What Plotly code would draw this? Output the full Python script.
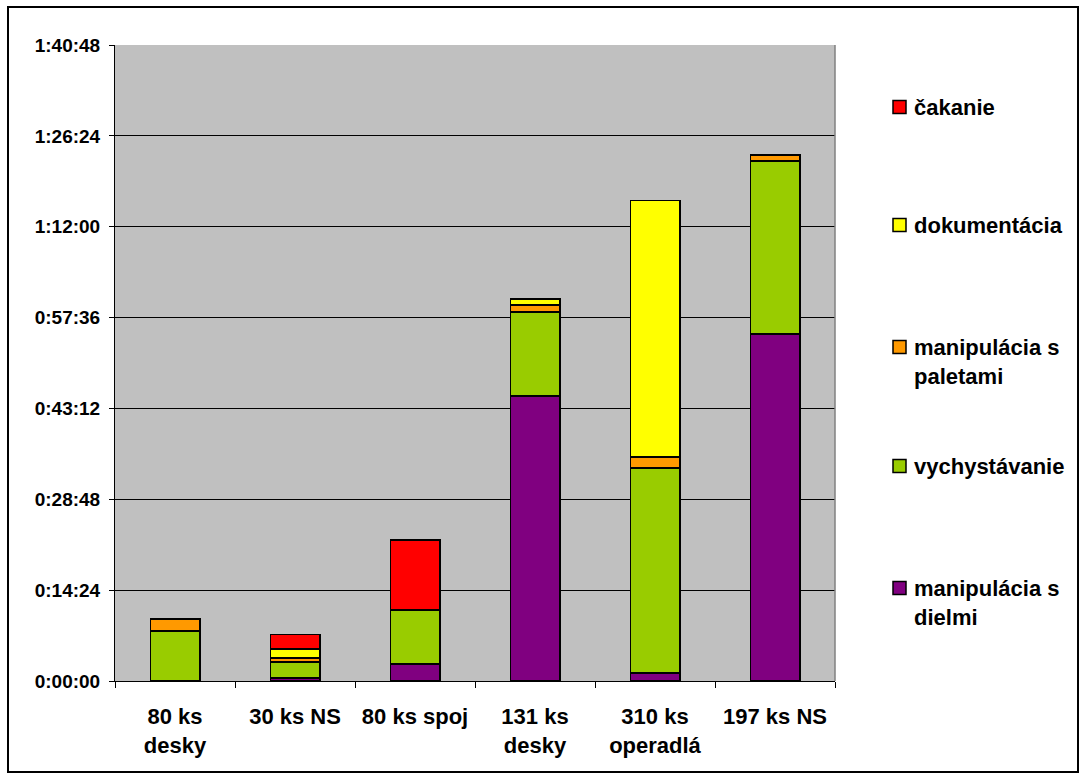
import plotly.graph_objects as go

# Categories (x axis)
categories = ["80 ks<br>desky", "30 ks NS", "80 ks spoj",
              "131 ks<br>desky", "310 ks<br>operadlá", "197 ks NS"]

# Time per activity, in seconds (stacked bottom -> top)
manipulacia_dielmi = [0, 31, 162, 2710, 73, 3300]
vychystavanie = [475, 149, 513, 799, 1949, 1642]
manipulacia_paletami = [114, 35, 0, 67, 110, 57]
dokumentacia = [0, 91, 0, 57, 2438, 0]
cakanie = [0, 137, 666, 0, 0, 0]

# Y axis ticks (seconds) and their h:mm:ss labels
y_tick_seconds = [0, 864, 1728, 2592, 3456, 4320, 5184, 6048]
y_tick_labels = ["0:00:00", "0:14:24", "0:28:48", "0:43:12",
                 "0:57:36", "1:12:00", "1:26:24", "1:40:48"]

series = [
    ("manipulácia s<br>dielmi", manipulacia_dielmi, "#800080"),
    ("vychystávanie", vychystavanie, "#99CC00"),
    ("manipulácia s<br>paletami", manipulacia_paletami, "#FF9900"),
    ("dokumentácia", dokumentacia, "#FFFF00"),
    ("čakanie", cakanie, "#FF0000"),
]

W, H = 1086, 781
L, R, T, B = 115, 835, 45, 681   # plot area edges in pixels


def px_x(px):
    return (px - L) / (R - L)


def px_y(py):
    return (B - py) / (B - T)


FONT = "Liberation Sans, Arial, sans-serif"

fig = go.Figure()
for name, vals, color in series:
    fig.add_trace(go.Bar(
        x=categories, y=vals, name=name,
        marker=dict(color=color, line=dict(color="black", width=1.8)),
        showlegend=False,
    ))

shapes = [
    # outer chart border
    dict(type="rect", xref="paper", yref="paper",
         x0=px_x(8), x1=px_x(1078), y0=px_y(772), y1=px_y(7),
         line=dict(color="black", width=2), fillcolor="rgba(0,0,0,0)"),
    # plot area right border
    dict(type="line", xref="paper", yref="paper",
         x0=1, x1=1, y0=0, y1=1, line=dict(color="#808080", width=1.5)),
]

annotations = []
# legend, top entry first (y = centre of the first text line)
legend_rows = [
    ("čakanie", "#FF0000", 107),
    ("dokumentácia", "#FFFF00", 225),
    ("manipulácia s<br>paletami", "#FF9900", 347),
    ("vychystávanie", "#99CC00", 466),
    ("manipulácia s<br>dielmi", "#800080", 588),
]
for text, color, yc in legend_rows:
    shapes.append(dict(type="rect", xref="paper", yref="paper",
                       x0=px_x(893), x1=px_x(906),
                       y0=px_y(yc + 6.5), y1=px_y(yc - 6.5),
                       fillcolor=color, line=dict(color="black", width=1.5)))
    annotations.append(dict(xref="paper", yref="paper",
                            x=px_x(912), y=px_y(yc - 14),
                            xanchor="left", yanchor="top", align="left",
                            text=text, showarrow=False,
                            font=dict(family=FONT, size=22, color="black",
                                      weight="bold")))

fig.update_layout(
    width=W, height=H,
    margin=dict(l=L, r=W - R, t=T, b=H - B, pad=0),
    barmode="stack", bargap=0.59,
    plot_bgcolor="#C0C0C0", paper_bgcolor="white",
    shapes=shapes, annotations=annotations,
    xaxis=dict(type="category", tickson="boundaries", ticks="outside",
               ticklen=6, tickcolor="black", tickwidth=1,
               showline=True, linecolor="black", linewidth=1,
               showgrid=False, ticklabelstandoff=16,
               tickfont=dict(family=FONT, size=22, color="black",
                             weight="bold")),
    yaxis=dict(range=[0, 6048], tickvals=y_tick_seconds,
               ticktext=y_tick_labels, ticks="outside", ticklen=5,
               tickcolor="black", showline=True, linecolor="black",
               linewidth=1, showgrid=True, gridcolor="black", gridwidth=1,
               zeroline=False, ticklabelstandoff=5,
               tickfont=dict(family=FONT, size=19, color="black",
                             weight="bold")),
)

fig.write_html("out.html")
